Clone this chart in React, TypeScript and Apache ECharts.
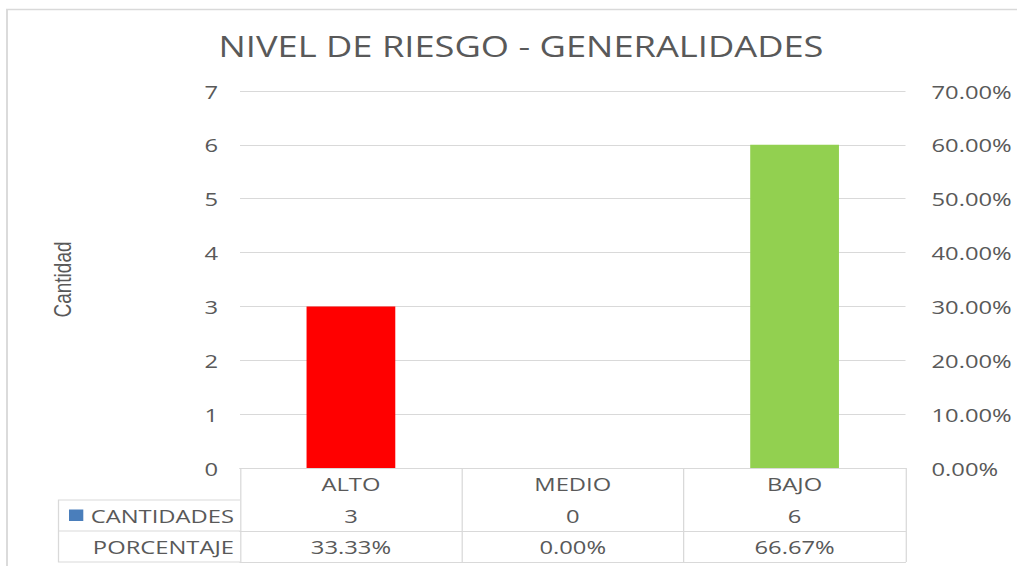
import React, { useEffect, useRef } from 'react';
import * as echarts from 'echarts';

// ---- data ----
const categories = ['ALTO', 'MEDIO', 'BAJO'];
const cantidades = [3, 0, 6];
const porcentajes = [33.33, 0, 66.67];
const rowLabels = ['CANTIDADES', 'PORCENTAJE'];
const chartTitle = 'NIVEL DE RIESGO - GENERALIDADES';
const leftAxisName = 'Cantidad';
const countAxis = { min: 0, max: 7, step: 1 };
const pctAxis = { min: 0, max: 70, step: 10 };

// ---- style ----
const barColors = ['#FF0000', '#FFC000', '#92D050'];
const seriesColor = '#4A7EBB';
const TXT = '#595959';
const LINE = '#D9D9D9';
const FONT = 'Open Sans';

const W = 813;
const H = 566;
const S = 1017 / W; // horizontal stretch of the reference
const px = (x: number) => x / S;

export default function App() {
  const ref = useRef<HTMLDivElement>(null);
  useEffect(() => {
    const chart = echarts.init(ref.current!, null, { renderer: 'svg' });
    const gridLeft = px(240);
    const gridRight = px(905.5);
    const plotTop = 91;
    const plotBottom = 468;
    const rowY = [500, 531, 562];
    const tableLeft = px(58.5);

    const tableAxis = (data: string[], offset: number, showLabel = true) => ({
      type: 'category',
      data,
      position: 'bottom',
      offset,
      axisLine: { show: true, lineStyle: { color: LINE, width: 1 } },
      axisTick: { show: false },
      axisLabel: { show: showLabel, interval: 0, margin: 6, color: TXT, fontFamily: FONT, fontSize: 19 },
      splitLine: { show: false },
    });

    chart.setOption({
      animation: false,
      title: {
        text: chartTitle,
        left: px(521),
        top: 31,
        padding: 0,
        textAlign: 'center',
        textStyle: { color: TXT, fontFamily: FONT, fontSize: 29, fontWeight: 'normal' },
      },
      grid: { left: gridLeft, right: W - gridRight, top: plotTop, bottom: H - plotBottom },
      xAxis: [
        {
          type: 'category',
          data: categories,
          position: 'bottom',
          axisLine: { show: true, lineStyle: { color: LINE, width: 1 } },
          axisTick: { show: true, length: rowY[2] - plotBottom, alignWithLabel: false, interval: 0, lineStyle: { color: LINE, width: 1 } },
          axisLabel: { interval: 0, margin: 6, color: TXT, fontFamily: FONT, fontSize: 19 },
          splitLine: { show: false },
        },
        tableAxis(cantidades.map((v) => String(v)), rowY[0] - plotBottom),
        tableAxis(porcentajes.map((v) => v.toFixed(2) + '%'), rowY[1] - plotBottom),
        tableAxis(categories.map(() => ''), rowY[2] - plotBottom, false),
      ],
      yAxis: [
        {
          type: 'value',
          position: 'left',
          min: countAxis.min,
          max: countAxis.max,
          interval: countAxis.step,
          axisLine: { show: false },
          axisTick: { show: false },
          splitLine: { show: true, lineStyle: { color: LINE, width: 1 } },
          axisLabel: { margin: px(22), color: TXT, fontFamily: FONT, fontSize: 19 },
          name: leftAxisName,
          nameLocation: 'middle',
          nameGap: gridLeft - px(75),
          nameTextStyle: { color: TXT, fontFamily: 'Liberation Sans', fontSize: 19 },
        },
        {
          type: 'value',
          position: 'right',
          min: pctAxis.min,
          max: pctAxis.max,
          interval: pctAxis.step,
          axisLine: { show: false },
          axisTick: { show: false },
          splitLine: { show: false },
          axisLabel: {
            margin: px(26),
            color: TXT,
            fontFamily: FONT,
            fontSize: 19,
            formatter: (v: number) => v.toFixed(2) + '%',
          },
        },
      ],
      series: [
        {
          name: rowLabels[0],
          type: 'bar',
          xAxisIndex: 0,
          yAxisIndex: 0,
          barCategoryGap: '60%',
          itemStyle: { color: seriesColor },
          data: cantidades.map((v, i) => ({ value: v, itemStyle: { color: barColors[i] } })),
        },
        {
          name: rowLabels[1],
          type: 'line',
          xAxisIndex: 0,
          yAxisIndex: 1,
          data: porcentajes,
          symbol: 'none',
          silent: true,
          lineStyle: { opacity: 0 },
        },
      ],
      graphic: [
        {
          type: 'rect',
          silent: true,
          shape: { x: px(7) , y: 9.5, width: W + 20, height: H + 20 },
          style: { fill: 'none', stroke: LINE, lineWidth: 1.5 },
        },
        {
          type: 'polyline',
          silent: true,
          shape: { points: [[gridLeft, rowY[0]], [tableLeft, rowY[0]], [tableLeft, rowY[2]], [gridLeft, rowY[2]]] },
          style: { fill: 'none', stroke: LINE, lineWidth: 1 },
        },
        {
          type: 'line',
          silent: true,
          shape: { x1: tableLeft, y1: rowY[1], x2: gridLeft, y2: rowY[1] },
          style: { stroke: LINE, lineWidth: 1 },
        },
        {
          type: 'rect',
          silent: true,
          shape: { x: px(69), y: 509.5, width: px(14.3), height: 11.4 },
          style: { fill: seriesColor },
        },
        {
          type: 'text',
          silent: true,
          x: px(234),
          y: (rowY[0] + rowY[1]) / 2,
          style: { text: rowLabels[0], align: 'right', verticalAlign: 'middle', fill: TXT, font: `19px "${FONT}"` },
        },
        {
          type: 'text',
          silent: true,
          x: px(234),
          y: (rowY[1] + rowY[2]) / 2,
          style: { text: rowLabels[1], align: 'right', verticalAlign: 'middle', fill: TXT, font: `19px "${FONT}"` },
        },
      ],
    });
    return () => chart.dispose();
  }, []);

  return (
    <div
      ref={ref}
      style={{
        position: 'absolute',
        left: 0,
        top: 0,
        width: W,
        height: H,
        transform: `scaleX(${S})`,
        transformOrigin: '0 0',
        background: '#fff',
      }}
    />
  );
}
